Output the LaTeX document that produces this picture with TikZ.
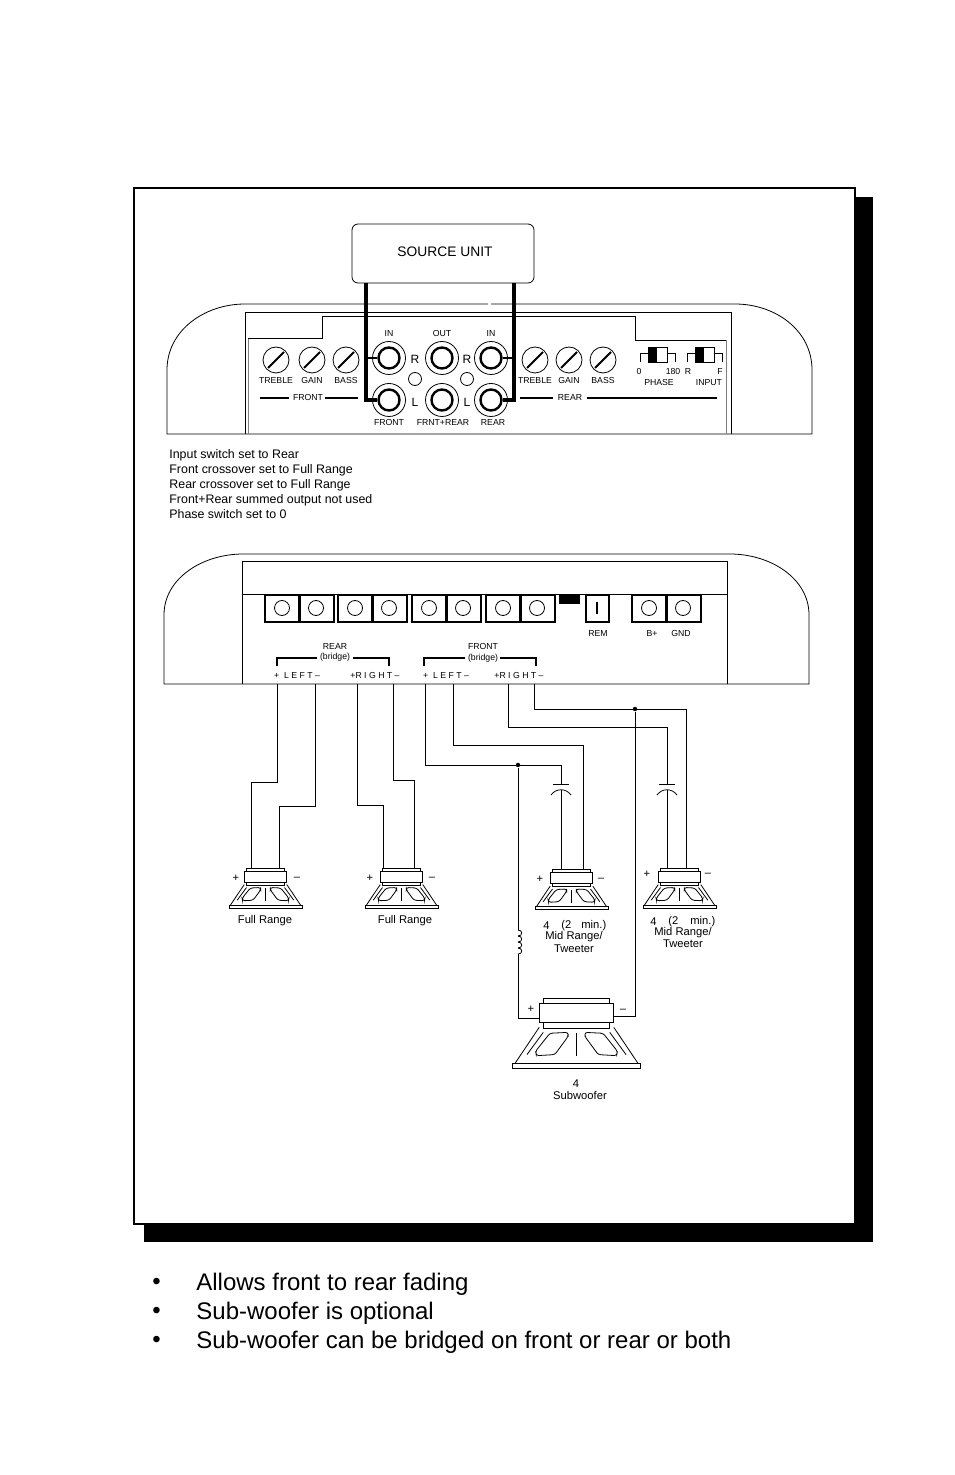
\documentclass[tikz,border=0pt]{standalone}
\usepackage{fontspec}
\setmainfont{Liberation Sans}
\tikzset{
	tiny label/.style={inner sep=0pt, font=\fontsize{4.35}{5}\selectfont},
	small label/.style={inner sep=0pt, font=\fontsize{5.6}{6}\selectfont},
	note label/.style={inner sep=0pt, anchor=west, font=\fontsize{6.2}{7}\selectfont},
	big label/.style={inner sep=0pt, anchor=west, font=\fontsize{12}{14}\selectfont},
	knob/.style={draw, circle, inner sep=0pt, minimum size=13pt},
	jack/.style={draw, circle, inner sep=0pt, minimum size=16.5pt},
	screw/.style={draw, circle, inner sep=0pt, minimum size=7.5pt},
	led/.style={draw, circle, inner sep=0pt, minimum size=6.5pt},
	dot/.style={fill=black, circle, inner sep=0pt, minimum size=2.2pt},
	bar/.style={line width=1pt},
	signal/.style={line width=1.6pt},
	speaker/.pic={
		\draw[fill=white] (-36.5,0) rectangle (36.5,3);
		\draw[fill=white] (-19,-37) rectangle (19,-20);
		\draw[fill=white] (-21,-34) rectangle (21,-23);
		\draw (0,-17) -- (0,-4);
		\foreach \s in {1,-1} {
			\draw (\s*35,0) -- (\s*21.3,-20.4);
			\draw (\s*28.3,-4.8) -- (\s*19,-17.5);
			\draw[rounded corners=1.2pt] (\s*15.2,-17) -- (\s*4.8,-17.5) -- (\s*4.8,-15.2) -- (\s*12.4,-4.8) -- (\s*22.9,-4.2) -- (\s*23.4,-6.7) -- cycle;
		}
	}
}
\begin{document}
\begin{tikzpicture}[x=0.5pt, y=-0.5pt]
	\useasboundingbox[fill=white] (0,0) rectangle (954,1475);

	% page frame
	\fill[black] (144,197) rectangle (873,1242);
	\draw[line width=1pt, fill=white] (134,188) rectangle (855,1224);

	% source unit
	\node[draw, rounded corners=3pt, minimum width=91pt, minimum height=29.5pt, inner sep=0pt] (source) at (443,253.5) {};
	\node[inner sep=0pt, font=\fontsize{6.9}{8}\selectfont] (sourcetext) at (445,252) {SOURCE UNIT};

	% head end amplifier
	\draw (488,304) -- (245,304) .. controls (205,304) and (167,330) .. (167,370) -- (167,434) -- (812,434) -- (812,370) .. controls (812,330) and (775,304) .. (735,304) -- (491,304);
	\draw (245,434) -- (245,312) -- (731,312) -- (731,434);
	\draw[gray] (248,434) -- (248,338);
	\draw (248,338) -- (322,338) -- (322,316) -- (635,316) -- (635,340) -- (726,340);
	\draw[gray] (726,340) -- (726,434);

	\foreach \x/\name/\txt in {276/ftreble/TREBLE,312/fgain/GAIN,346/fbass/BASS,535/rtreble/TREBLE,569/rgain/GAIN,603/rbass/BASS} {
		\node[knob] (\name) at (\x,360) {};
		\draw[line width=0.9pt] (\x-8,368) -- (\x+8,352);
		\node[tiny label] (\name text) at (\x,381) {\txt};
	}
	\foreach \x/\name in {389/a,442/b,491/c} {
		\foreach \y/\row in {358/r,400/l} {
			\node[jack] (jack\name\row) at (\x,\y) {};
			\node[circle, draw, line width=1.2pt, inner sep=0pt, minimum size=10.5pt] (ring\name\row) at (\x,\y) {};
		}
	}
	\node[led] (leda) at (415,379) {};
	\node[led] (ledb) at (467,379) {};
	\foreach \x/\y/\txt in {415/359/R,467/359/R,415/402/L,467/402/L} {
		\node[inner sep=0pt, font=\fontsize{6}{7}\selectfont] at (\x,\y) {\txt};
	}
	\foreach \x/\y/\txt in {389/334/IN,442/334/OUT,491/334/IN,389/423/FRONT,443/423/FRNT+REAR,493/423/REAR,639/372/0,673/372/180,688/372/R,720/372/F,659/383/PHASE,709/383/INPUT} {
		\node[tiny label] at (\x,\y) {\txt};
	}

	\node[tiny label] (frontbar) at (308,398) {FRONT};
	\draw[bar] (260,398) -- (289,398);
	\draw[bar] (325,398) -- (358,398);
	\node[tiny label] (rearbar) at (570,398) {REAR};
	\draw[bar] (520,398) -- (553,398);
	\draw[bar] (587,398) -- (717,398);

	\foreach \x in {640,687} {
		\draw (\x,362) -- (\x,353) -- (\x+8,353);
		\draw (\x+27,353) -- (\x+35,353) -- (\x+35,362);
		\draw[fill=white] (\x+8,347) rectangle (\x+27,362);
		\fill[black] (\x+8,347) rectangle (\x+17,362);
	}

	% signal leads
	\coordinate (srcl) at (366,283);
	\coordinate (srcr) at (514,283);
	\draw[signal] (srcl) -- (366,400) -- (ringal.west);
	\draw[signal] (srcr) -- (514,400) -- (ringcl.east);
	\draw[line width=0.8pt] (368,358) -- (ringar.west);
	\draw[line width=0.8pt] (ringcr.east) -- (512,358);

	% notes
	\foreach \y/\txt in {455/Input switch set to Rear,470/Front crossover set to Full Range,485/Rear crossover set to Full Range,500/Front+Rear summed output not used,514/Phase switch set to 0} {
		\node[note label] at (169,\y) {\txt};
	}

	% power amplifier
	\draw (164,684) -- (164,615) .. controls (164,578) and (203,554) .. (243,554) -- (730,554) .. controls (770,554) and (809,578) .. (809,615) -- (809,684) -- cycle;
	\draw (242,684) -- (242,561) -- (727,561) -- (727,684);
	\draw (242,594) -- (727,594);

	\foreach \x/\name in {265/ra,338/rb,412/fa,486/fb,632/pw} {
		\draw[line width=1.3pt, fill=white] (\x,595) rectangle (\x+34.5,622);
		\draw[line width=1.3pt, fill=white] (\x+34.5,595) rectangle (\x+69,622);
		\node[screw] (\name l) at (\x+17,608) {};
		\node[screw] (\name r) at (\x+51,608) {};
	}
	\fill[black] (559,594) rectangle (580,604);
	\draw[line width=1.3pt, fill=white] (586,595) rectangle (609,622);
	\draw[line width=0.9pt] (597,602) -- (597,614);
	\node[tiny label] (remtext) at (598,634) {REM};
	\node[tiny label] (bplustext) at (652,634) {B+};
	\node[tiny label] (gndtext) at (681,634) {GND};

	\node[tiny label, align=center] (reartext) at (335,652.5) {REAR\\[0.4pt](bridge)};
	\node[tiny label, align=center] (fronttext) at (483,652.5) {FRONT\\[0.4pt](bridge)};
	\draw[bar] (277,666) -- (277,658) -- (317,658);
	\draw[bar] (353,658) -- (389,658) -- (389,666);
	\draw[bar] (424,666) -- (424,658) -- (465,658);
	\draw[bar] (500,658) -- (536,658) -- (536,666);
	\foreach \x/\txt in {297/+\ \ L E F T –,375/+R I G H T –,446/+\ \ L E F T –,519/+R I G H T –} {
		\node[tiny label] at (\x,676) {\txt};
	}

	% amplifier outputs and speaker inputs
	\foreach \x/\name in {277/rlp,315/rlm,357/rrp,393/rrm,425/flp,453/flm,508/frp,534/frm} {
		\coordinate (\name) at (\x,684);
	}
	\foreach \x/\y/\name in {251/868/onep,279/868/onem,383/868/twop,414/868/twom,583/870/midm,686/868/him,541/1018/subp,612/1016/subm} {
		\coordinate (\name) at (\x,\y);
	}
	\node[dot] (jleft) at (518,765) {};
	\node[dot] (jright) at (635,709) {};

	\draw (rlp) -- (277,782) -- (251,782) -- (onep);
	\draw (rlm) -- (315,806) -- (279,806) -- (onem);
	\draw (rrp) -- (357,805) -- (383,805) -- (twop);
	\draw (rrm) -- (393,780) -- (414,780) -- (twom);

	% caps and coil
	\draw (flp) -- (425,765) -- (561,765) -- (561,784);
	\draw (flm) -- (453,745) -- (583,745) -- (midm);
	\draw (frp) -- (508,727) -- (667,727) -- (667,784);
	\draw (frm) -- (534,709) -- (686,709) -- (him);
	\foreach \x in {561,667} {
		\draw (\x-8,784) -- (\x+8,784);
		\draw (\x-10,795) .. controls (\x-5,788) and (\x+5,788) .. (\x+10,795);
		\draw (\x,790) -- (\x,870);
	}
	\draw (jleft) -- (518,930);
	\foreach \y in {930,936,942,948} {
		\draw (518,\y) .. controls (523,\y) and (523,\y+6) .. (518,\y+6);
	}
	\draw (518,954) -- (518,1018) -- (subp);
	\draw (jright) -- (635,1016) -- (subm);

	% speakers
	\pic at (265.5,905) {speaker};
	\pic at (401.5,905) {speaker};
	\pic at (571.5,906.5) {speaker};
	\pic at (679.5,905) {speaker};
	\pic[scale=1.75] at (576.5,1063) {speaker};

	\foreach \x/\y/\txt in {236/878/+,297/879/–,370/878/+,432/879/–,540/879/+,601/880/–,647/874/+,708/875/–,531/1009/+,623/1011/–} {
		\node[small label] at (\x,\y) {\txt};
	}
	\foreach \x/\y/\txt in {265/921/Full Range,405/921/Full Range,574/937/{Mid Range/},574/949/Tweeter,683/933/{Mid Range/},683/944/Tweeter,576/1084/4,580/1095/Subwoofer} {
		\node[small label] at (\x,\y) {\txt};
	}
	\foreach \x/\y/\txt in {543/926/4,561/926/(2,581/926/min.),650/922/4,668/922/(2,690/922/min.)} {
		\node[small label, anchor=west] at (\x,\y) {\txt};
	}

	% bullet points
	\foreach \y/\txt in {1284/Allows front to rear fading,1313/Sub-woofer is optional,1342/Sub-woofer can be bridged on front or rear or both} {
		\node[big label] at (152,\y) {•};
		\node[big label] at (196,\y) {\txt};
	}
\end{tikzpicture}
\end{document}
